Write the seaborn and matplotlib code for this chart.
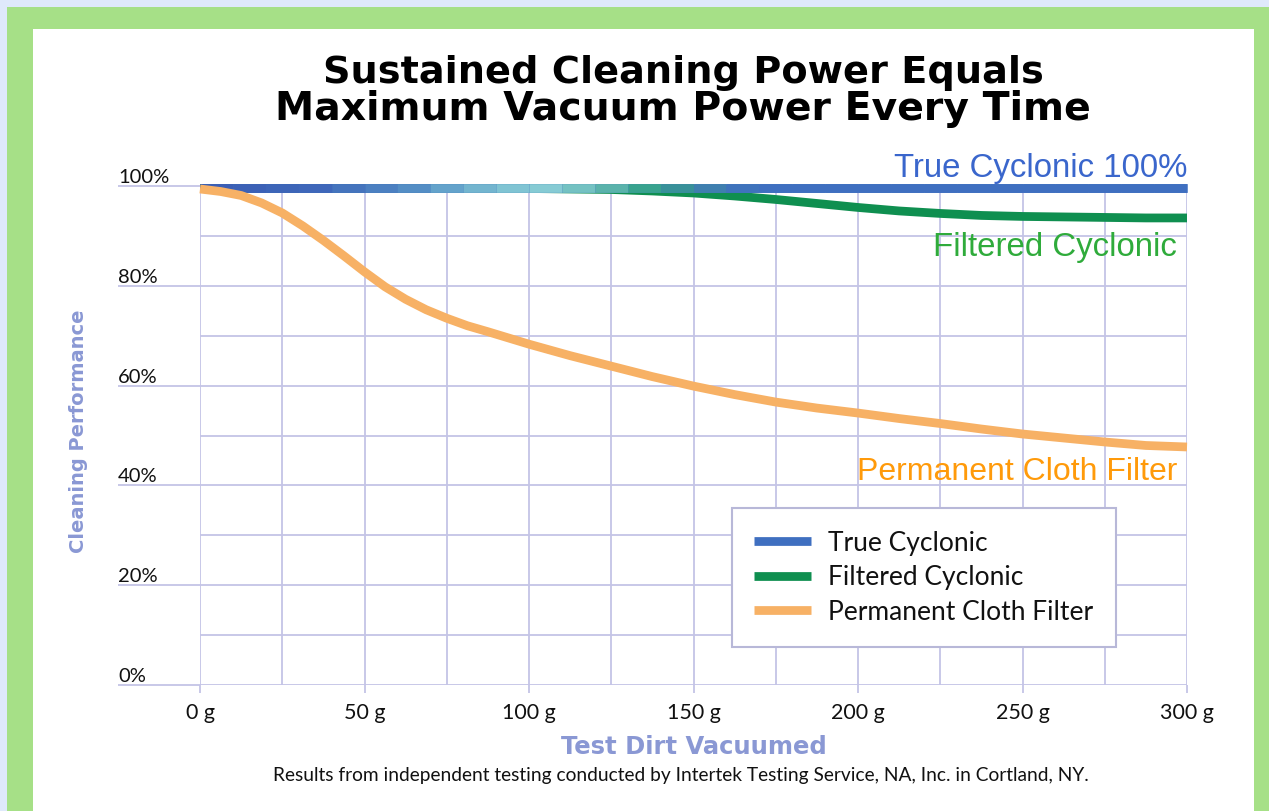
import numpy as np
import pandas as pd
import matplotlib
matplotlib.use("Agg")
import matplotlib.pyplot as plt
from matplotlib.patches import Rectangle
from matplotlib.collections import LineCollection
from matplotlib.colors import LinearSegmentedColormap
import seaborn as sns

# values (grams of test dirt vs % cleaning performance)
true_dirt_g = [0, 10, 20, 30, 40, 50, 60, 70, 80, 90, 100, 110, 120, 130, 140, 150,
               160, 170, 180, 190, 200, 210, 220, 230, 240, 250, 260, 270, 280, 290, 300]
true_cyclonic = [99.5, 99.5, 99.5, 99.5, 99.5, 99.5, 99.5, 99.5, 99.5, 99.5, 99.5,
                 99.5, 99.5, 99.5, 99.5, 99.5, 99.5, 99.5, 99.5, 99.5, 99.5, 99.5,
                 99.5, 99.5, 99.5, 99.5, 99.5, 99.5, 99.5, 99.5, 99.5]

filt_dirt_g = [0, 25, 50, 75, 100, 112.5, 125, 137.5, 150, 162.5, 175, 187.5, 200,
               212.5, 225, 237.5, 250, 262.5, 275, 287.5, 300]
filtered_cyclonic = [99.5, 99.5, 99.5, 99.5, 99.5, 99.4, 99.3, 99.0, 98.6, 98.0, 97.3,
                     96.5, 95.7, 95.0, 94.5, 94.1, 93.9, 93.8, 93.7, 93.6, 93.6]

cloth_dirt_g = [0, 6.25, 12.5, 18.75, 25, 31.25, 37.5, 43.75, 50, 56.25, 62.5, 68.75, 75,
                81.25, 87.5, 100, 112.5, 125, 137.5, 150, 162.5, 175, 187.5, 200, 212.5,
                225, 237.5, 250, 262.5, 275, 287.5, 300]
cloth_filter = [99.4, 98.9, 98.1, 96.6, 94.6, 92.0, 89.1, 86.0, 82.8, 79.8, 77.3, 75.2, 73.5,
                72.0, 70.8, 68.3, 66.0, 63.9, 61.8, 59.9, 58.2, 56.7, 55.5, 54.5, 53.4,
                52.4, 51.3, 50.3, 49.5, 48.7, 48.0, 47.7]

series_names = ["True Cyclonic", "Filtered Cyclonic", "Permanent Cloth Filter"]
series_colors = ["#3f6fc0", "#0f8f50", "#f7b165"]
x_ticks = [0, 50, 100, 150, 200, 250, 300]
x_labels = ["0 g", "50 g", "100 g", "150 g", "200 g", "250 g", "300 g"]
y_ticks = [0, 20, 40, 60, 80, 100]
y_labels = ["0%", "20%", "40%", "60%", "80%", "100%"]

df_true = pd.DataFrame({"dirt": true_dirt_g, "perf": true_cyclonic})
df_filt = pd.DataFrame({"dirt": filt_dirt_g, "perf": filtered_cyclonic})
df_cloth = pd.DataFrame({"dirt": cloth_dirt_g, "perf": cloth_filter})

sns.set_style("white")
plt.rcParams["font.family"] = ["Lato", "DejaVu Sans"]

W, H = 1269, 811
fig = plt.figure(figsize=(W / 100, H / 100), dpi=100, facecolor="#dfe9fb")

# green frame + white panel
fig.add_artist(Rectangle((7 / W, 0), 1 - 7 / W, 1 - 7 / H, transform=fig.transFigure,
                         facecolor="#a6e087", edgecolor="none", zorder=-10))
fig.add_artist(Rectangle((33 / W, 0), (1254 - 33) / W, 1 - 29 / H, transform=fig.transFigure,
                         facecolor="white", edgecolor="none", zorder=-9))

ax = fig.add_axes([200 / W, 1 - 685 / H, (1187 - 200) / W, (685 - 186) / H])
ax.set_facecolor("white")

grid_c = "#c4c4e6"
ax.set_xlim(0, 300)
ax.set_ylim(0, 100)
ax.set_xticks(x_ticks)
ax.set_xticklabels(x_labels)
ax.set_xticks(range(0, 301, 25), minor=True)
ax.set_yticks(y_ticks)
ax.set_yticklabels(y_labels)
ax.set_yticks(range(0, 101, 10), minor=True)
ax.grid(which="both", color=grid_c, linewidth=1.3)
ax.set_axisbelow(True)
for s in ax.spines.values():
    s.set_visible(False)

ax.tick_params(axis="y", which="major", length=59, width=1.3, color=grid_c, pad=0,
               labelsize=14.5, labelcolor="#111111", left=True)
ax.tick_params(axis="x", which="major", length=6, width=1.3, color=grid_c, pad=7,
               labelsize=15.5, labelcolor="#111111", bottom=True)
ax.tick_params(which="minor", length=0)
plt.setp(ax.get_yticklabels(), ha="left", va="bottom")

lw = 6.3
sns.lineplot(data=df_filt, x="dirt", y="perf", color=series_colors[1], lw=lw,
             label=series_names[1], ax=ax, zorder=3, solid_capstyle="butt", clip_on=False)
sns.lineplot(data=df_true, x="dirt", y="perf", color=series_colors[0], lw=lw,
             label=series_names[0], ax=ax, zorder=4, solid_capstyle="butt", clip_on=False)

# the blue line fades to cyan/teal in the middle as in the printed chart
fade = LinearSegmentedColormap.from_list(
    "fade", [(0, "#3a5db4"), (0.12, "#3f68ba"), (0.22, "#5590c6"), (0.30, "#7cc0d2"),
             (0.36, "#88cdd4"), (0.41, "#5fb6b0"), (0.46, "#2f9f86"), (0.50, "#3f86a8"),
             (0.56, "#3f6fc0"), (1, "#3f6fc0")])
pts = np.column_stack([true_dirt_g, true_cyclonic])
segs = np.stack([pts[:-1], pts[1:]], axis=1)
mids = (np.array(true_dirt_g[:-1]) + np.array(true_dirt_g[1:])) / 2 / 300
lc = LineCollection(segs, colors=fade(mids), linewidths=lw, capstyle="butt",
                    zorder=4.5, clip_on=False)
ax.add_collection(lc)

sns.lineplot(data=df_cloth, x="dirt", y="perf", color=series_colors[2], lw=lw,
             label=series_names[2], ax=ax, zorder=5, solid_capstyle="butt",
             solid_joinstyle="round", clip_on=False)

handles, labels = ax.get_legend_handles_labels()
order = [labels.index(n) for n in series_names]
leg = ax.legend([handles[i] for i in order], [labels[i] for i in order],
                loc="lower left", bbox_to_anchor=(0.539, 0.076), fontsize=19,
                frameon=True, fancybox=False, framealpha=1, edgecolor="#b8b8d8",
                handlelength=2.15, handletextpad=0.64, labelspacing=0.36, borderpad=0.85,
                borderaxespad=0)
leg.get_frame().set_linewidth(1.5)
for t in leg.get_texts():
    t.set_color("#111111")

ax.set_xlabel("")
ax.set_ylabel("")

# direct labels on the right
lab_font = ["Liberation Sans", "DejaVu Sans"]
ax.text(300, 101.8, "True Cyclonic 100%", ha="right", va="baseline", fontsize=23.8,
        color="#3a66cc", family=lab_font)
ax.text(297, 86.0, "Filtered Cyclonic", ha="right", va="baseline", fontsize=23.8,
        color="#2fab3b", family=lab_font)
ax.text(297, 41.1, "Permanent Cloth Filter", ha="right", va="baseline", fontsize=23,
        color="#ff9a0a", family=lab_font)

# titles and axis labels
title_kw = dict(ha="center", va="center", fontweight="bold", color="black",
                family=["DejaVu Sans"])
fig.text(683 / W, 1 - 73 / H, "Sustained Cleaning Power Equals", fontsize=27.5, **title_kw)
fig.text(683 / W, 1 - 109 / H, "Maximum Vacuum Power Every Time", fontsize=28.4, **title_kw)
fig.text(78 / W, 1 - 431 / H, "Cleaning Performance", rotation=90, ha="center", va="center",
         fontsize=14, fontweight="bold", color="#8a98d4", family=["DejaVu Sans"])
fig.text(694 / W, 1 - 747 / H, "Test Dirt Vacuumed", ha="center", va="center",
         fontsize=17.5, fontweight="bold", color="#8a98d4", family=["DejaVu Sans"])
fig.text(681 / W, 1 - 776 / H,
         "Results from independent testing conducted by Intertek Testing Service, NA, Inc. in Cortland, NY.",
         ha="center", va="center", fontsize=13.8, color="#111111")

fig.savefig("out.png", dpi=100, facecolor=fig.get_facecolor())
